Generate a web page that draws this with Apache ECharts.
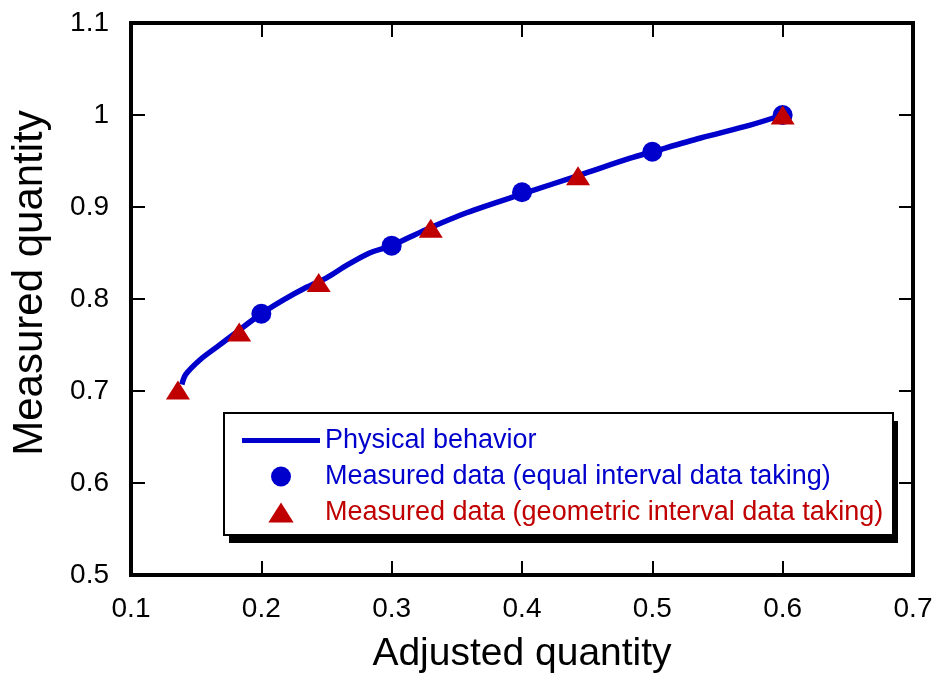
<!DOCTYPE html>
<html>
<head>
<meta charset="utf-8">
<script src="https://cdn.jsdelivr.net/npm/echarts@6/dist/echarts.min.js"></script>
<style>
  html, body { margin: 0; padding: 0; background: #fff; }
  #chart { width: 935px; height: 674px; }
</style>
</head>
<body>
<div id="chart"></div>
<script>
// ---- data ----
const xTicks = [0.1, 0.2, 0.3, 0.4, 0.5, 0.6, 0.7];
const yTicks = [0.5, 0.6, 0.7, 0.8, 0.9, 1.0, 1.1];

// "Physical behavior" curve
const lineX = [0.139, 0.142, 0.153, 0.166, 0.181, 0.199, 0.217, 0.235, 0.250, 0.266, 0.283, 0.300, 0.324, 0.358, 0.402, 0.445, 0.483, 0.500, 0.537, 0.575, 0.600];
const lineY = [0.707, 0.718, 0.734, 0.748, 0.764, 0.783, 0.799, 0.813, 0.823, 0.837, 0.850, 0.858, 0.874, 0.894, 0.915, 0.935, 0.953, 0.960, 0.975, 0.989, 1.000];

// Measured data (equal interval data taking)
const equalX = [0.2, 0.3, 0.4, 0.5, 0.6];
const equalY = [0.784, 0.858, 0.916, 0.960, 1.000];

// Measured data (geometric interval data taking)
const geoX = [0.136, 0.183, 0.244, 0.330, 0.443, 0.600];
const geoY = [0.701, 0.764, 0.818, 0.877, 0.934, 1.000];

const names = ['Physical behavior', 'Measured data (equal interval data taking)', 'Measured data (geometric interval data taking)'];
const BLUE = '#0000cc';
const RED = '#c00000';
const FONT = 'Liberation Sans';

const zip = (a, b) => a.map((v, i) => [v, b[i]]);

const chart = echarts.init(document.getElementById('chart'), null, { renderer: 'canvas' });

const GL = 131, GT = 23, GR = 22, GB = 99;

const baseX = {
  type: 'value', min: xTicks[0], max: xTicks[xTicks.length - 1], interval: 0.1,
  axisLine: { show: false },
  axisTick: { show: true, inside: true, length: 14, lineStyle: { color: '#000', width: 2 } },
  splitLine: { show: false }
};
const baseY = {
  type: 'value', min: yTicks[0], max: yTicks[yTicks.length - 1], interval: 0.1,
  axisLine: { show: false },
  axisTick: { show: true, inside: true, length: 14, lineStyle: { color: '#000', width: 2 } },
  splitLine: { show: false }
};

chart.setOption({
  animation: false,
  backgroundColor: '#fff',
  textStyle: { fontFamily: FONT },
  grid: {
    left: GL, top: GT, right: GR, bottom: GB,
    show: true, borderColor: '#000', borderWidth: 4, backgroundColor: 'transparent',
    containLabel: false, outerBoundsMode: 'none'
  },
  xAxis: [
    Object.assign({}, baseX, {
      position: 'bottom',
      name: 'Adjusted quantity', nameLocation: 'middle', nameGap: 60,
      nameTextStyle: { fontSize: 39, color: '#000', fontFamily: FONT },
      axisLabel: { show: true, fontSize: 28, color: '#000', margin: 20, fontFamily: FONT }
    }),
    Object.assign({}, baseX, { position: 'top', axisLabel: { show: false } })
  ],
  yAxis: [
    Object.assign({}, baseY, {
      position: 'left',
      name: 'Measured quantity', nameLocation: 'middle', nameGap: 80,
      nameTextStyle: { fontSize: 42, color: '#000', fontFamily: FONT, padding: [0, 0, 0, 32] },
      axisLabel: { show: true, fontSize: 28, color: '#000', margin: 22, fontFamily: FONT }
    }),
    Object.assign({}, baseY, { position: 'right', axisLabel: { show: false } })
  ],
  graphic: [
    { type: 'rect', z: 3, silent: true, shape: { x: 229, y: 421, width: 669, height: 122 }, style: { fill: '#000' } },
    { type: 'rect', z: 3, silent: true, shape: { x: 224, y: 413, width: 669, height: 122 }, style: { fill: '#fff', stroke: '#000', lineWidth: 2 } }
  ],
  legend: {
    z: 10,
    orient: 'vertical', left: 242, top: 427, padding: 0,
    itemWidth: 78, itemHeight: 20, itemGap: 9,
    symbolKeepAspect: true,
    textStyle: { fontSize: 27, fontFamily: FONT },
    data: [
      { name: names[0], icon: 'path://M0,0H78V5H0Z', itemStyle: { color: BLUE }, textStyle: { color: BLUE } },
      { name: names[1], icon: 'circle', itemStyle: { color: BLUE }, textStyle: { color: BLUE } },
      { name: names[2], icon: 'path://M12,0L24,19L0,19Z', itemStyle: { color: RED }, textStyle: { color: RED } }
    ]
  },
  series: [
    {
      name: names[0], type: 'line', xAxisIndex: 0, yAxisIndex: 0,
      data: zip(lineX, lineY), symbol: 'none', smooth: 0.3,
      lineStyle: { color: BLUE, width: 5.5 }, itemStyle: { color: BLUE }, z: 2
    },
    {
      name: names[1], type: 'scatter', xAxisIndex: 0, yAxisIndex: 0,
      data: zip(equalX, equalY), symbol: 'circle', symbolSize: 20,
      itemStyle: { color: BLUE, opacity: 1 }, z: 3
    },
    {
      name: names[2], type: 'scatter', xAxisIndex: 0, yAxisIndex: 0,
      data: zip(geoX, geoY), symbol: 'triangle', symbolSize: [24, 19],
      itemStyle: { color: RED, opacity: 1 }, z: 4
    }
  ]
});
</script>
</body>
</html>
